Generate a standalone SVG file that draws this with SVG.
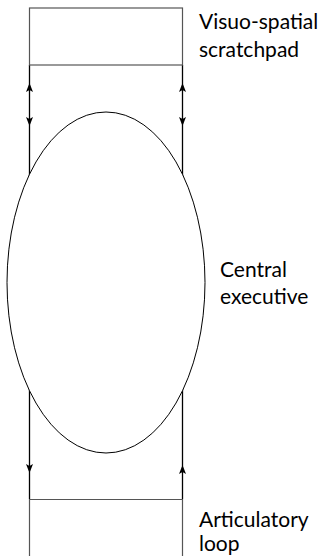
<svg xmlns="http://www.w3.org/2000/svg" width="325" height="556" viewBox="0 0 325 556">
<style>
.box{fill:none;stroke:#555;stroke-width:1.2}
.ln{stroke:#000;stroke-width:1.3;fill:none}
.ah{fill:#000}
.lbl{font-family:Lato,"Open Sans",sans-serif;font-size:21px;fill:#000}
</style>
<defs>
<path id="up" d="M0,0 L3.5,9 L0,7 L-3.5,9 Z"/>
<path id="down" d="M0,0 L3.5,-9 L0,-7 L-3.5,-9 Z"/>
</defs>
<g id="connectors">
<line class="ln" x1="29.5" y1="65" x2="29.5" y2="499"/>
<line class="ln" x1="182.5" y1="65" x2="182.5" y2="499"/>
<use href="#up" class="ah" x="29.5" y="83"/>
<use href="#down" class="ah" x="29.5" y="126"/>
<use href="#up" class="ah" x="182.5" y="83"/>
<use href="#down" class="ah" x="182.5" y="126"/>
<use href="#down" class="ah" x="29.5" y="473"/>
<use href="#up" class="ah" x="182.5" y="465"/>
</g>
<g id="visuo-spatial">
<rect class="box" x="29.5" y="8" width="153" height="57"/>
<text class="lbl" x="199" y="29">Visuo-spatial</text>
<text class="lbl" x="199" y="57">scratchpad</text>
</g>
<g id="central-executive">
<ellipse cx="106" cy="282.5" rx="99" ry="170.5" fill="#fff" stroke="#000" stroke-width="1"/>
<text class="lbl" x="220" y="277">Central</text>
<text class="lbl" x="220" y="304">executive</text>
</g>
<g id="articulatory-loop">
<path class="box" d="M29.5,556 V499.5 H182.5 V556"/>
<text class="lbl" x="199" y="527">Articulatory</text>
<text class="lbl" x="199" y="551">loop</text>
</g>
</svg>
